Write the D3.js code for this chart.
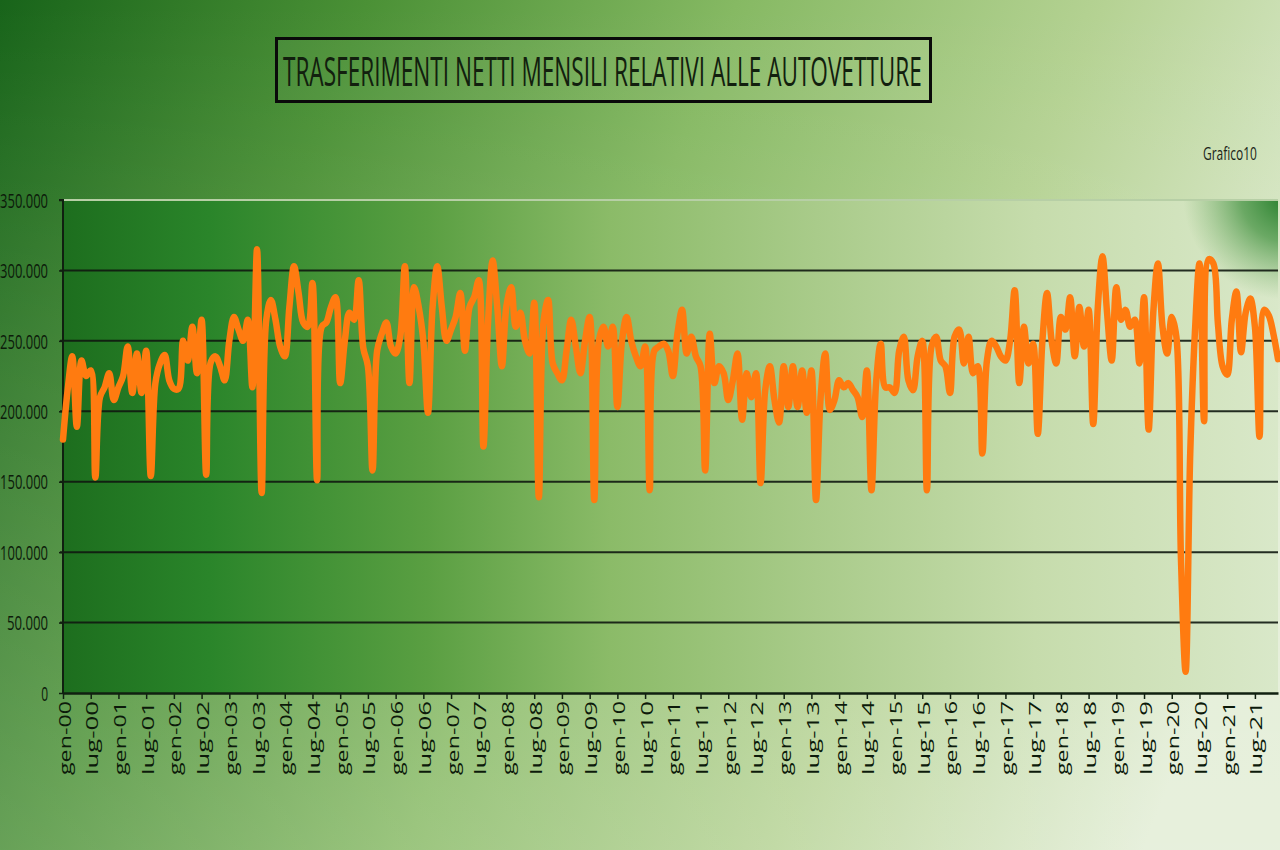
<!DOCTYPE html>
<html><head><meta charset="utf-8">
<script src="https://cdn.jsdelivr.net/npm/d3@7"></script>
<style>html,body{margin:0;padding:0;background:#fff}svg{display:block}</style>
</head><body>
<svg id="c" width="1280" height="850"></svg>
<script>
// ---------- DATA ----------
const years = ['00','01','02','03','04','05','06','07','08','09','10','11','12','13','14','15','16','17','18','19','20','21'];
const monthNames = ['gen','feb','mar','apr','mag','giu','lug','ago','set','ott','nov','dic'];
const categories = years.flatMap(yy => monthNames.map(m => m + '-' + yy));
// monthly net transfers, thousands of cars
const valuesThousands = [
  180,215,239,189,236,225,229,153,210,217,227,208,
  217,225,246,213,241,213,243,154,220,234,240,222,
  216,216,250,236,260,227,265,155,235,239,232,222,
  250,267,258,250,265,217,315,142,265,279,265,246,
  239,274,303,284,263,260,291,151,260,263,274,281,
  220,250,270,265,293,245,232,158,243,255,263,246,
  241,253,303,220,288,274,250,199,274,303,274,250,
  258,267,284,243,274,281,293,175,263,307,274,232,
  275,288,260,270,250,241,277,139,263,279,234,227,
  222,243,265,246,227,250,267,137,250,260,246,260,
  203,250,267,250,239,232,246,144,243,246,248,243,
  225,255,272,241,253,239,232,158,255,220,232,227,
  208,222,241,194,227,210,227,149,215,232,208,192,
  232,203,232,203,229,199,229,137,210,241,201,208,
  222,217,220,215,210,196,229,144,220,248,217,217,
  213,243,253,222,215,239,250,144,246,253,236,232,
  213,253,258,234,253,227,232,170,236,250,246,239,
  236,250,286,220,260,234,248,184,250,284,250,234,
  267,258,281,239,274,246,272,191,274,310,270,236,
  288,265,272,260,265,234,281,187,270,305,260,241,
  267,253,95,15,170,255,305,193,308,305,262,232,
  226,265,285,242,270,280,260,182,272,268,255,237
];
const yTickValues = [0,50,100,150,200,250,300,350];
const yTickLabels = ['0','50.000','100.000','150.000','200.000','250.000','300.000','350.000'];
const xLabelStep = 6;
const titleText = 'TRASFERIMENTI NETTI MENSILI RELATIVI ALLE AUTOVETTURE';
const chartTag = 'Grafico10';

// ---------- LAYOUT ----------
const W = 1280, H = 850;
const plot = {left: 63, right: 1278, top: 200, bottom: 693};
const FONT = "'Open Sans', 'Noto Sans', sans-serif";
const svg = d3.select('#c');
const defs = svg.append('defs');

function linGrad(id, attrs, stops) {
  const g = defs.append('linearGradient').attr('id', id).attr('gradientUnits', 'userSpaceOnUse');
  Object.entries(attrs).forEach(([k, v]) => g.attr(k, v));
  stops.forEach(([o, c, op]) => g.append('stop').attr('offset', o).attr('stop-color', c).attr('stop-opacity', op == null ? 1 : op));
  return g;
}
linGrad('bgGrad', {x1: 0, y1: 0, x2: 1280, y2: 500}, [
  [0, '#18641a'], [0.25, '#4b9136'], [0.5, '#86b963'], [0.75, '#b5d293'], [1, '#e2edd5']
]);
linGrad('bgShade', {x1: 0, y1: 0, x2: 0, y2: 850}, [
  [0, '#ffffff', 0], [1, '#ffffff', 0.18]
]);
linGrad('plotGrad', {x1: plot.left, y1: 0, x2: plot.right, y2: 0}, [
  [0, '#1d6e1e'], [0.12, '#2a852a'], [0.3, '#5a9f42'], [0.45, '#8bbb68'],
  [0.62, '#a9cb8a'], [0.8, '#c6dcac'], [1, '#d9e8c9']
]);
const rg = defs.append('radialGradient').attr('id', 'cornerGrad').attr('gradientUnits', 'userSpaceOnUse')
  .attr('cx', plot.right + 10).attr('cy', plot.top - 5).attr('r', 105);
rg.append('stop').attr('offset', 0).attr('stop-color', '#1f7a26').attr('stop-opacity', 1);
rg.append('stop').attr('offset', 0.45).attr('stop-color', '#3c8e3a').attr('stop-opacity', 0.7);
rg.append('stop').attr('offset', 1).attr('stop-color', '#6aa85a').attr('stop-opacity', 0);
defs.append('clipPath').attr('id', 'plotClip').append('rect')
  .attr('x', plot.left).attr('y', plot.top).attr('width', plot.right - plot.left).attr('height', plot.bottom - plot.top);

// background
svg.append('rect').attr('width', W).attr('height', H).attr('fill', 'url(#bgGrad)');
svg.append('rect').attr('width', W).attr('height', H).attr('fill', 'url(#bgShade)');

// plot area
const pw = plot.right - plot.left, ph = plot.bottom - plot.top;
svg.append('rect').attr('x', plot.left).attr('y', plot.top).attr('width', pw).attr('height', ph).attr('fill', 'url(#plotGrad)');
svg.append('rect').attr('x', plot.left).attr('y', plot.top).attr('width', pw).attr('height', ph)
  .attr('fill', 'url(#cornerGrad)').attr('clip-path', 'url(#plotClip)');

// scales
const x = d3.scalePoint().domain(categories).range([plot.left, plot.right]);
const y = d3.scaleLinear().domain([0, 350]).range([plot.bottom, plot.top]);

// top border (light)
svg.append('line').attr('x1', plot.left).attr('x2', plot.right).attr('y1', y(350)).attr('y2', y(350))
  .attr('stroke', '#b7cfa6').attr('stroke-width', 2);

// gridlines
svg.append('g').selectAll('line').data(yTickValues.filter(v => v > 0 && v < 350)).join('line')
  .attr('x1', plot.left - 3).attr('x2', plot.right).attr('y1', d => y(d)).attr('y2', d => y(d))
  .attr('stroke', '#101810').attr('stroke-width', 2).attr('stroke-opacity', 0.9);

// y axis
const yAxis = d3.axisLeft(y).tickValues(yTickValues).tickSize(4).tickFormat((d, i) => yTickLabels[i]);
const gy = svg.append('g').attr('transform', `translate(${plot.left},0)`).call(yAxis);
gy.select('.domain').attr('stroke', '#102010').attr('stroke-width', 2).attr('d', `M-4,${plot.top}H0V${plot.bottom}`);
gy.selectAll('.tick line').attr('stroke', '#102010').attr('stroke-width', 1.5);
gy.selectAll('.tick text')
  .attr('x', -15).attr('dy', '0.36em')
  .attr('font-family', FONT).attr('font-size', 20)
  .attr('fill', '#0c1a0a')
  .attr('textLength', (d, i) => yTickLabels[i].length * 6.85)
  .attr('lengthAdjust', 'spacingAndGlyphs');

// x axis
const xTickCats = categories.filter((c, i) => i % xLabelStep === 0);
const xAxis = d3.axisBottom(x).tickValues(xTickCats).tickSize(6).tickSizeOuter(0);
const gx = svg.append('g').attr('transform', `translate(0,${plot.bottom})`).call(xAxis);
gx.select('.domain').attr('stroke', '#102010').attr('stroke-width', 2.5);
gx.selectAll('.tick line').attr('stroke', '#102010').attr('stroke-width', 1.5);
gx.selectAll('.tick text')
  .attr('text-anchor', 'end')
  .attr('transform', 'translate(7,8) rotate(-90)')
  .attr('x', 0).attr('y', 0).attr('dy', 0)
  .attr('font-family', FONT).attr('font-size', 15.5)
  .attr('fill', '#0c1a0a')
  .attr('textLength', 74).attr('lengthAdjust', 'spacingAndGlyphs');

// the series line
const line = d3.line()
  .x((d, i) => x(categories[i]))
  .y(d => y(d))
  .curve(d3.curveCatmullRom.alpha(0.5));
svg.append('path').datum(valuesThousands)
  .attr('d', line)
  .attr('fill', 'none')
  .attr('stroke', '#ff7b10')
  .attr('stroke-width', 6.5)
  .attr('stroke-linejoin', 'round')
  .attr('stroke-linecap', 'round');

// horizontally squeezed text helper
function squeezedText(str, x0, yBase, size, targetW, color) {
  const t = svg.append('text').attr('x', 0).attr('y', 0)
    .attr('font-family', FONT).attr('font-size', size).attr('fill', color).text(str);
  const natural = t.node().getComputedTextLength();
  t.attr('transform', `translate(${x0},${yBase}) scale(${targetW / natural},1)`);
  return t;
}

// title box
svg.append('rect').attr('x', 276.5).attr('y', 38.5).attr('width', 654).attr('height', 63)
  .attr('fill', '#ffffff').attr('fill-opacity', 0.04)
  .attr('stroke', '#0a0a0a').attr('stroke-width', 3);
squeezedText(titleText, 283, 86, 40, 639, '#12200e');

// chart tag
squeezedText(chartTag, 1203, 160, 19, 54, '#1a2418');
</script>
</body></html>
